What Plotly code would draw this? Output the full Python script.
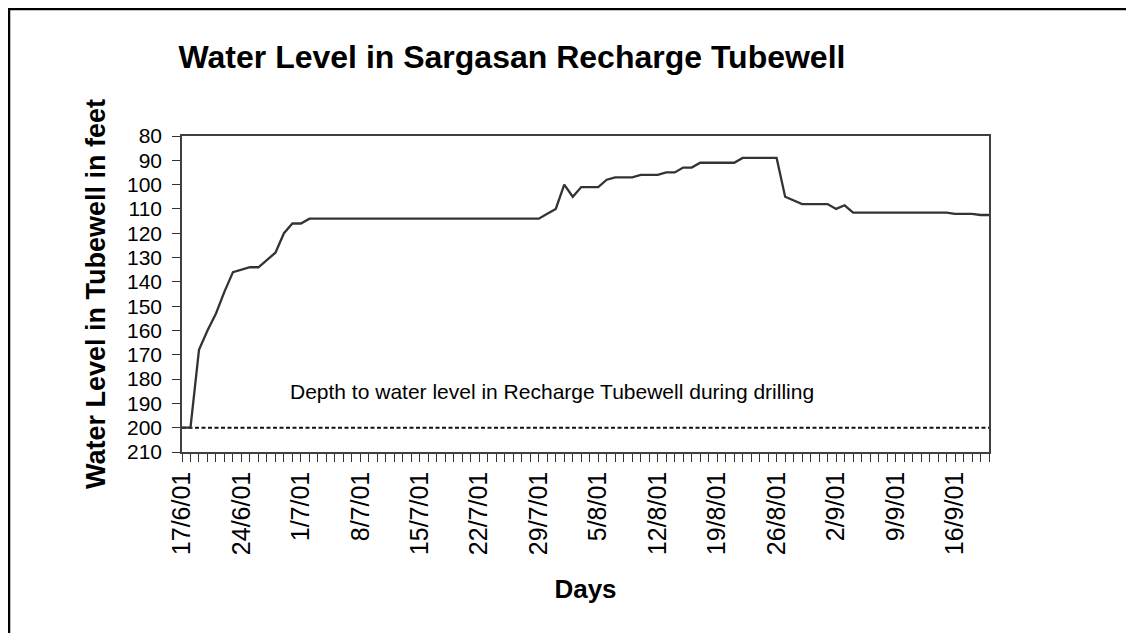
import pandas as pd
import plotly.graph_objects as go

# Categories: daily readings from 17 June 2001 to 20 September 2001
start_date = "2001-06-17"
n_days = 96
dates = pd.date_range(start_date, periods=n_days, freq="D")

# Water level (feet below ground)
water_level = [
    200, 200, 168, 160, 153, 144, 136, 135, 134, 134,
    131, 128, 120, 116, 116, 114, 114, 114, 114, 114,
    114, 114, 114, 114, 114, 114, 114, 114, 114, 114,
    114, 114, 114, 114, 114, 114, 114, 114, 114, 114,
    114, 114, 114, 112, 110, 100, 105, 101, 101, 101,
    98, 97, 97, 97, 96, 96, 96, 95, 95, 93,
    93, 91, 91, 91, 91, 91, 89, 89, 89, 89,
    89, 105, 106.5, 108, 108, 108, 108, 110, 108.5, 111.5,
    111.5, 111.5, 111.5, 111.5, 111.5, 111.5, 111.5, 111.5, 111.5, 111.5,
    111.5, 112, 112, 112, 112.5, 112.5,
]

# Depth to water level during drilling (constant reference)
drilling_depth = [200] * n_days

# Tick labels every 7 days
tick_dates = ["2001-06-17", "2001-06-24", "2001-07-01", "2001-07-08", "2001-07-15",
              "2001-07-22", "2001-07-29", "2001-08-05", "2001-08-12", "2001-08-19",
              "2001-08-26", "2001-09-02", "2001-09-09", "2001-09-16"]
tick_labels = ["17/6/01", "24/6/01", "1/7/01", "8/7/01", "15/7/01", "22/7/01",
               "29/7/01", "5/8/01", "12/8/01", "19/8/01", "26/8/01", "2/9/01",
               "9/9/01", "16/9/01"]
y_ticks = list(range(80, 211, 10))

FONT = "Liberation Sans, Arial, sans-serif"

# Page shows the figure with an 8px body margin; layout compensates for it.
W, H = 1134, 633
ML, MT = 174, 128
MR = W - 981
MB = H - 444

fig = go.Figure()
fig.add_trace(go.Scatter(
    x=dates, y=drilling_depth, mode="lines",
    line=dict(color="#111111", width=2, dash="4px,2.5px"),
    showlegend=False, name="Drilling depth",
))
fig.add_trace(go.Scatter(
    x=dates, y=water_level, mode="lines",
    line=dict(color="#333333", width=2.3),
    showlegend=False, name="Water level",
))

fig.update_layout(
    width=W, height=H,
    paper_bgcolor="white", plot_bgcolor="white",
    margin=dict(l=ML, r=MR, t=MT, b=MB),
    font=dict(family=FONT, color="black", size=24),
    title=dict(text="<b>Water Level in Sargasan Recharge Tubewell</b>",
               x=504 / W, xref="container", xanchor="center",
               y=1 - 49 / H, yref="container", yanchor="middle",
               font=dict(size=32, family=FONT, color="black")),
    xaxis=dict(
        range=[dates[0], dates[-1]],
        tickmode="array", tickvals=tick_dates, ticktext=tick_labels,
        tickangle=-90, ticks="outside", ticklen=8, tickwidth=1.2, tickcolor="#333",
        minor=dict(dtick=86400000, ticks="outside", ticklen=8, tickwidth=1.2, tickcolor="#333",
                   showgrid=False),
        showline=True, linecolor="#404040", linewidth=1.5, mirror=True,
        showgrid=False, zeroline=False,
        tickfont=dict(size=25),
        title=dict(text="<b>Days</b>", font=dict(size=26), standoff=26),
    ),
    yaxis=dict(
        range=[210, 80], autorange=False,
        tickmode="array", tickvals=y_ticks,
        ticks="outside", ticklen=8, tickwidth=1.2, tickcolor="#333",
        ticklabelstandoff=6,
        showline=True, linecolor="#404040", linewidth=1.5, mirror=True,
        showgrid=False, zeroline=False,
        tickfont=dict(size=21),
        title=dict(text="<b>Water Level in Tubewell in feet</b>", font=dict(size=27), standoff=14),
    ),
    annotations=[dict(
        text="Depth to water level in Recharge Tubewell during drilling",
        xref="paper", yref="y", x=(552 - 182) / 807.6, y=185.3,
        xanchor="center", yanchor="middle", showarrow=False,
        font=dict(size=21, family=FONT, color="black"),
    )],
    shapes=[
        dict(type="line", xref="paper", yref="paper",
             xsizemode="pixel", xanchor=0, ysizemode="pixel", yanchor=1,
             x0=-173, x1=-173, y0=128, y1=-520,
             line=dict(color="black", width=2.5)),
        dict(type="line", xref="paper", yref="paper",
             xsizemode="pixel", xanchor=0, ysizemode="pixel", yanchor=1,
             x0=-174, x1=970, y0=127, y1=127,
             line=dict(color="black", width=2.5)),
    ],
)

fig.write_html("out.html")
